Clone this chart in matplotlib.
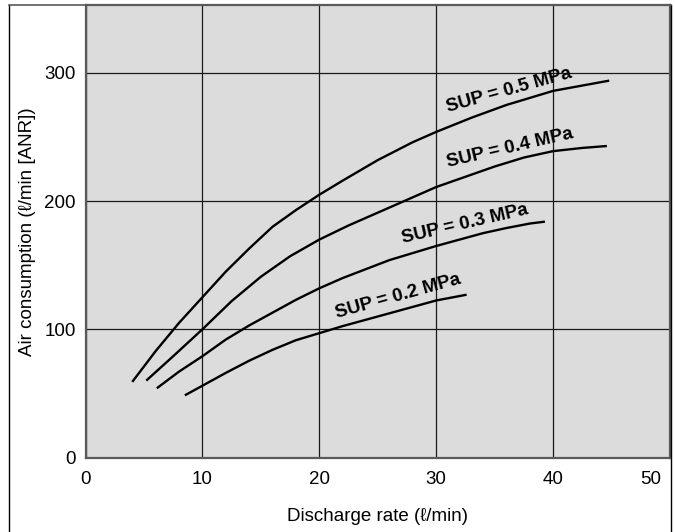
import matplotlib.pyplot as plt
import matplotlib.transforms as mtransforms
from matplotlib.lines import Line2D

plt.rcParams['font.family'] = ['Liberation Sans', 'DejaVu Sans']

# curves (discharge rate, air consumption)
x_05 = [4.0, 6, 8, 10, 12, 14, 16, 18, 20, 22, 25, 28, 30, 33, 36, 40, 43, 44.8]
y_05 = [59, 83, 105, 125, 145, 163, 180, 193, 205, 216, 232, 246, 254, 265, 275, 286, 291, 294]

x_04 = [5.2, 7.5, 10, 12.5, 15, 17.5, 20, 22.5, 25, 27.5, 30, 32.5, 35, 37.5, 40, 42.5, 44.6]
y_04 = [60, 79, 100, 122, 141, 157, 170, 181, 191, 201, 211, 219, 227, 234, 239, 241.5, 243]

x_03 = [6.1, 8, 10, 12, 14, 16, 18, 20, 22, 24, 26, 28, 30, 32, 34, 36, 38, 39.3]
y_03 = [54, 67, 79, 92, 103, 113, 123, 132, 140, 147, 154, 159.5, 165, 170, 175, 179, 182.5, 184]

x_02 = [8.5, 10, 12, 14, 16, 18, 20, 22, 24, 26, 28, 30, 32.6]
y_02 = [48.5, 56, 66, 75.5, 84, 91.5, 97, 102.5, 107.5, 112.5, 117.5, 122.5, 127]

labels = ['SUP = 0.5 MPa', 'SUP = 0.4 MPa', 'SUP = 0.3 MPa', 'SUP = 0.2 MPa']
label_x = [36.2, 36.3, 32.5, 26.7]
label_y = [286, 241, 182.4, 125.6]
label_rot = [15.5, 13, 13, 15.5]

x_ticks = [0, 10, 20, 30, 40, 50]
y_ticks = [0, 100, 200, 300]

W, H = 675, 532
fig = plt.figure(figsize=(W / 100, H / 100), dpi=100)
ax = fig.add_axes([85.5 / W, 1 - 457.5 / H, (670 - 85.5) / W, (457.5 - 5) / H])
ax.set_facecolor('#dcdcdc')

for xs, ys in [(x_05, y_05), (x_04, y_04), (x_03, y_03), (x_02, y_02)]:
    ax.plot(xs, ys, color='black', lw=1.7, solid_capstyle='butt')

for t, lx, ly, r in zip(labels, label_x, label_y, label_rot):
    ax.text(lx, ly, t, rotation=r, rotation_mode='anchor', ha='center', va='center',
            fontsize=13.5, fontweight='bold')

ax.set_xlim(0, 50)
ax.set_ylim(0, 353)
ax.set_xticks(x_ticks)
ax.set_yticks(y_ticks)
ax.grid(True, color='#1a1a1a', lw=0.9)
ax.set_axisbelow(True)
ax.tick_params(length=0, labelsize=13.5)
ax.tick_params(axis='x', pad=10)
ax.tick_params(axis='y', pad=7)
last = ax.get_xticklabels()[-1]
last.set_transform(last.get_transform() + mtransforms.ScaledTranslation(-0.19, 0, fig.dpi_scale_trans))
for s in ax.spines.values():
    s.set_color('#5a5a5a')
    s.set_linewidth(1.6)

ax.set_xlabel('Discharge rate (ℓ/min)', fontsize=13.5, labelpad=14)
ax.set_ylabel('Air consumption (ℓ/min [ANR])', fontsize=13.5, labelpad=6)

# outer frame (open at the bottom)
fx0, fx1, fy = 8.5 / W, 671 / W, 1 - 5 / H
fig.add_artist(Line2D([fx0, fx0], [0, fy], transform=fig.transFigure, color='black', lw=1))
fig.add_artist(Line2D([fx1, fx1], [0, fy], transform=fig.transFigure, color='black', lw=1))
fig.add_artist(Line2D([fx0, fx1], [fy, fy], transform=fig.transFigure, color='#5a5a5a', lw=1.2))

fig.savefig('out.png', dpi=100)
